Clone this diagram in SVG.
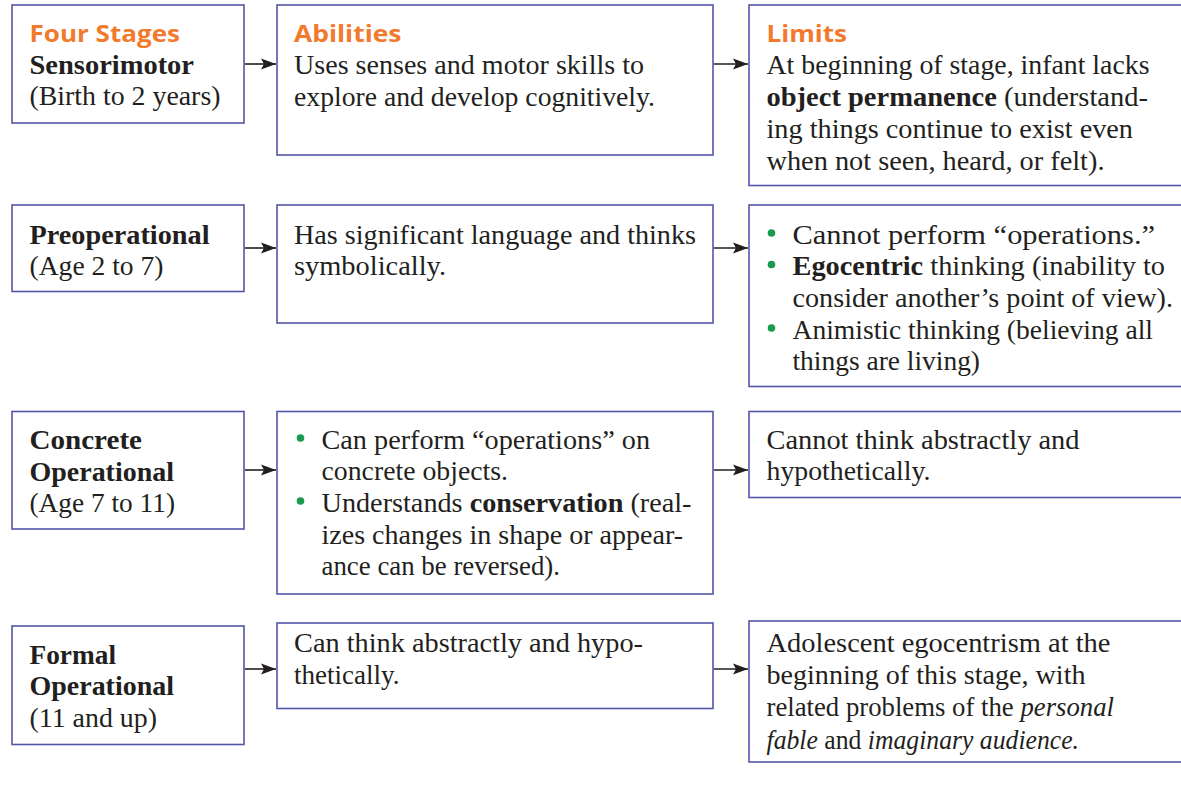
<svg xmlns="http://www.w3.org/2000/svg" width="1181" height="786" viewBox="0 0 1181 786">
<style>
.box{fill:#ffffff;stroke:#5456a8;stroke-width:1.6}
.t{font-family:"Liberation Serif","Times New Roman",serif;font-size:27px;fill:#231f20}
.b{font-weight:bold}
.i{font-style:italic}
.h{font-family:"Open Sans","Liberation Sans",sans-serif;font-size:24px;font-weight:700;fill:#f27a2c}
.dot{fill:#1a9a4f}
.conn{stroke:#231f20;stroke-width:1.6;fill:none}
</style>
<defs>
<marker id="arr" markerWidth="16" markerHeight="12" refX="15" refY="6" orient="auto" markerUnits="userSpaceOnUse">
<path d="M0,0.5 L15,6 L0,11.5 L3,6 Z" fill="#231f20"/>
</marker>
</defs>
<rect width="1181" height="786" fill="#ffffff"/>

<g id="connectors">
<line class="conn" x1="245" y1="64" x2="276" y2="64" marker-end="url(#arr)"/>
<line class="conn" x1="714" y1="64" x2="748" y2="64" marker-end="url(#arr)"/>
<line class="conn" x1="245" y1="248" x2="276" y2="248" marker-end="url(#arr)"/>
<line class="conn" x1="714" y1="248" x2="748" y2="248" marker-end="url(#arr)"/>
<line class="conn" x1="245" y1="470" x2="276" y2="470" marker-end="url(#arr)"/>
<line class="conn" x1="714" y1="470" x2="748" y2="470" marker-end="url(#arr)"/>
<line class="conn" x1="245" y1="669" x2="276" y2="669" marker-end="url(#arr)"/>
<line class="conn" x1="714" y1="669" x2="748" y2="669" marker-end="url(#arr)"/>
</g>

<g id="stage-sensorimotor">
<rect class="box" x="12" y="5" width="232" height="118"/>
<text class="h" x="29.5" y="41.5" textLength="150.5" lengthAdjust="spacingAndGlyphs">Four Stages</text>
<text class="t b" x="29.5" y="73.5" textLength="164.5" lengthAdjust="spacingAndGlyphs">Sensorimotor</text>
<text class="t" x="29.5" y="104.5" textLength="191" lengthAdjust="spacingAndGlyphs">(Birth to 2 years)</text>
</g>
<g id="abilities-sensorimotor">
<rect class="box" x="277" y="5" width="436" height="150"/>
<text class="h" x="294" y="41.5" textLength="107.5" lengthAdjust="spacingAndGlyphs">Abilities</text>
<text class="t" x="294" y="74" textLength="350" lengthAdjust="spacingAndGlyphs">Uses senses and motor skills to</text>
<text class="t" x="294" y="106" textLength="361" lengthAdjust="spacingAndGlyphs">explore and develop cognitively.</text>
</g>
<g id="limits-sensorimotor">
<rect class="box" x="749" y="5" width="436" height="180.5"/>
<text class="h" x="766.5" y="41.5" textLength="80.5" lengthAdjust="spacingAndGlyphs">Limits</text>
<text class="t" x="766.5" y="74" textLength="383" lengthAdjust="spacingAndGlyphs">At beginning of stage, infant lacks</text>
<text class="t" x="766.5" y="106" textLength="381.5" lengthAdjust="spacingAndGlyphs"><tspan class="b">object permanence</tspan> (understand-</text>
<text class="t" x="766.5" y="138" textLength="366.5" lengthAdjust="spacingAndGlyphs">ing things continue to exist even</text>
<text class="t" x="766.5" y="170" textLength="338" lengthAdjust="spacingAndGlyphs">when not seen, heard, or felt).</text>
</g>

<g id="stage-preoperational">
<rect class="box" x="12" y="205" width="232" height="86.5"/>
<text class="t b" x="29.5" y="243.5" textLength="180" lengthAdjust="spacingAndGlyphs">Preoperational</text>
<text class="t" x="29.5" y="275" textLength="134" lengthAdjust="spacingAndGlyphs">(Age 2 to 7)</text>
</g>
<g id="abilities-preoperational">
<rect class="box" x="277" y="205" width="436" height="118"/>
<text class="t" x="294" y="243.5" textLength="402" lengthAdjust="spacingAndGlyphs">Has significant language and thinks</text>
<text class="t" x="294" y="275" textLength="152" lengthAdjust="spacingAndGlyphs">symbolically.</text>
</g>
<g id="limits-preoperational">
<rect class="box" x="749" y="205" width="436" height="181.5"/>
<circle class="dot" cx="771.5" cy="233" r="3.8"/>
<text class="t" x="792.5" y="243.5" textLength="362.5" lengthAdjust="spacingAndGlyphs">Cannot perform “operations.”</text>
<circle class="dot" cx="771.5" cy="264.5" r="3.8"/>
<text class="t" x="792.5" y="275" textLength="372.5" lengthAdjust="spacingAndGlyphs"><tspan class="b">Egocentric</tspan> thinking (inability to</text>
<text class="t" x="792.5" y="306.5" textLength="380.5" lengthAdjust="spacingAndGlyphs">consider another’s point of view).</text>
<circle class="dot" cx="771.5" cy="328" r="3.8"/>
<text class="t" x="792.5" y="338.5" textLength="360.5" lengthAdjust="spacingAndGlyphs">Animistic thinking (believing all</text>
<text class="t" x="792.5" y="370" textLength="187.5" lengthAdjust="spacingAndGlyphs">things are living)</text>
</g>

<g id="stage-concrete">
<rect class="box" x="12" y="411.5" width="232" height="117.5"/>
<text class="t b" x="29.5" y="448.5" textLength="112.5" lengthAdjust="spacingAndGlyphs">Concrete</text>
<text class="t b" x="29.5" y="481" textLength="144.5" lengthAdjust="spacingAndGlyphs">Operational</text>
<text class="t" x="29.5" y="511.5" textLength="145.5" lengthAdjust="spacingAndGlyphs">(Age 7 to 11)</text>
</g>
<g id="abilities-concrete">
<rect class="box" x="277" y="411.5" width="436" height="182.5"/>
<circle class="dot" cx="300.5" cy="438" r="3.8"/>
<text class="t" x="321.5" y="448.5" textLength="328.5" lengthAdjust="spacingAndGlyphs">Can perform “operations” on</text>
<text class="t" x="321.5" y="480" textLength="186.5" lengthAdjust="spacingAndGlyphs">concrete objects.</text>
<circle class="dot" cx="300.5" cy="501" r="3.8"/>
<text class="t" x="321.5" y="511.5" textLength="370" lengthAdjust="spacingAndGlyphs">Understands <tspan class="b">conservation</tspan> (real-</text>
<text class="t" x="321.5" y="543.5" textLength="361.5" lengthAdjust="spacingAndGlyphs">izes changes in shape or appear-</text>
<text class="t" x="321.5" y="575" textLength="238.5" lengthAdjust="spacingAndGlyphs">ance can be reversed).</text>
</g>
<g id="limits-concrete">
<rect class="box" x="749" y="411.5" width="436" height="86"/>
<text class="t" x="766.5" y="448.5" textLength="313" lengthAdjust="spacingAndGlyphs">Cannot think abstractly and</text>
<text class="t" x="766.5" y="480" textLength="164" lengthAdjust="spacingAndGlyphs">hypothetically.</text>
</g>

<g id="stage-formal">
<rect class="box" x="12" y="626" width="232" height="118.5"/>
<text class="t b" x="29.5" y="663.5" textLength="86.5" lengthAdjust="spacingAndGlyphs">Formal</text>
<text class="t b" x="29.5" y="695" textLength="144.5" lengthAdjust="spacingAndGlyphs">Operational</text>
<text class="t" x="29.5" y="726.5" textLength="127.5" lengthAdjust="spacingAndGlyphs">(11 and up)</text>
</g>
<g id="abilities-formal">
<rect class="box" x="277" y="623" width="436" height="85.5"/>
<text class="t" x="294" y="651.5" textLength="349" lengthAdjust="spacingAndGlyphs">Can think abstractly and hypo-</text>
<text class="t" x="294" y="684" textLength="105.5" lengthAdjust="spacingAndGlyphs">thetically.</text>
</g>
<g id="limits-formal">
<rect class="box" x="749" y="621" width="436" height="141"/>
<text class="t" x="766.5" y="651.5" textLength="344" lengthAdjust="spacingAndGlyphs">Adolescent egocentrism at the</text>
<text class="t" x="766.5" y="684" textLength="319" lengthAdjust="spacingAndGlyphs">beginning of this stage, with</text>
<text class="t" x="766.5" y="716" textLength="347.5" lengthAdjust="spacingAndGlyphs">related problems of the <tspan class="i">personal</tspan></text>
<text class="t" x="766.5" y="748.5" textLength="312.5" lengthAdjust="spacingAndGlyphs"><tspan class="i">fable</tspan> and <tspan class="i">imaginary audience.</tspan></text>
</g>
</svg>
